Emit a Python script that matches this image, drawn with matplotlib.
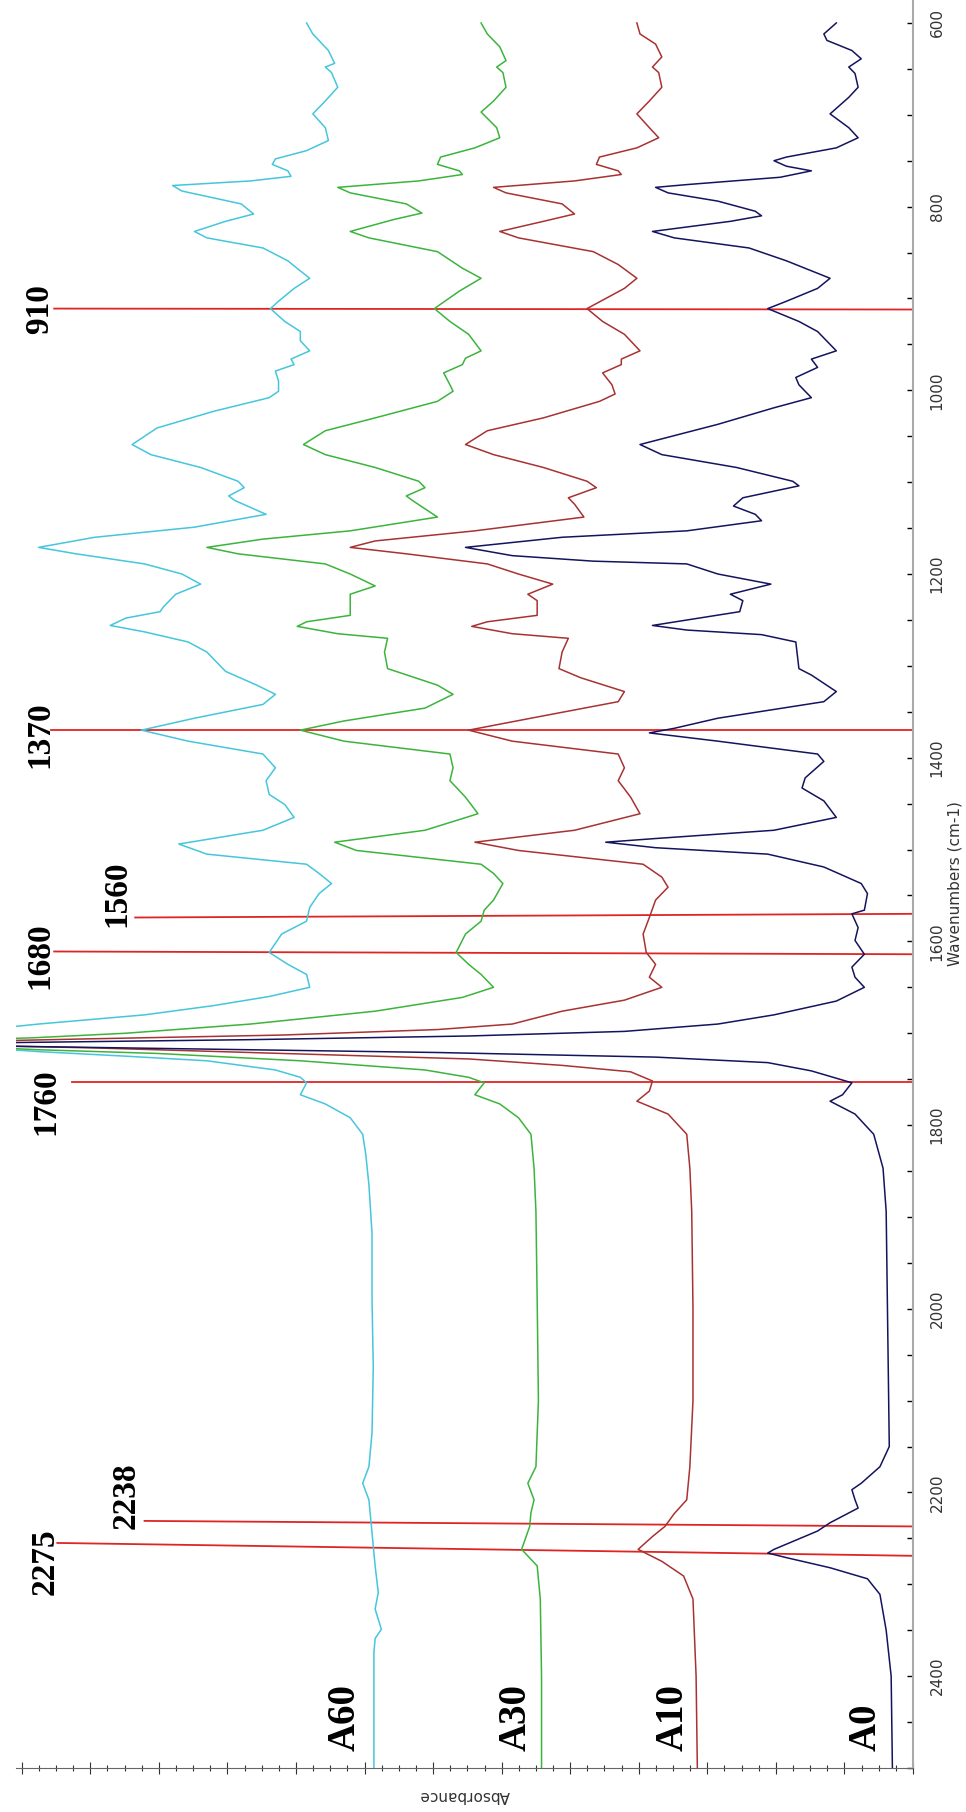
import matplotlib
matplotlib.use("Agg")
import matplotlib.pyplot as plt
from matplotlib.ticker import MultipleLocator

# FTIR spectra (absorbance in arbitrary stacked units)
wn_a60 = [600, 612, 630, 644, 648, 654, 670, 685, 699, 714, 728, 739, 748, 754, 761, 767,
          772, 777, 783, 797, 808, 816, 827, 834, 845, 859, 870, 878, 889, 903, 911, 925,
          936, 946, 957, 966, 972, 979, 990, 1001, 1008, 1023, 1041, 1059, 1070, 1084,
          1099, 1106, 1115, 1120, 1135, 1149, 1160, 1171, 1178, 1189, 1200, 1211, 1222,
          1236, 1241, 1248, 1256, 1263, 1274, 1285, 1299, 1306, 1321, 1331, 1342, 1357,
          1370, 1382, 1396, 1411, 1425, 1440, 1451, 1465, 1479, 1494, 1505, 1516, 1526,
          1537, 1548, 1563, 1578, 1592, 1612, 1625, 1636, 1650, 1660, 1670, 1680, 1690,
          1708, 1720, 1725, 1730, 1740, 1748, 1754, 1767, 1777, 1792, 1810, 1832, 1865,
          1918, 1990, 2063, 2135, 2172, 2190, 2208, 2244, 2280, 2309, 2327, 2349, 2359,
          2374, 2500]
ab_a60 = [0.973, 0.963, 0.938, 0.928, 0.943, 0.933, 0.923, 0.943, 0.963, 0.943, 0.938,
          0.973, 1.023, 1.028, 1.003, 0.998, 1.063, 1.188, 1.173, 1.078, 1.058, 1.103,
          1.153, 1.133, 1.043, 1.003, 0.983, 0.968, 0.993, 1.018, 1.031, 1.008, 0.983,
          0.983, 0.968, 0.998, 0.993, 1.023, 1.018, 1.018, 1.033, 1.123, 1.213, 1.253,
          1.223, 1.143, 1.083, 1.073, 1.098, 1.088, 1.038, 1.153, 1.313, 1.403, 1.343,
          1.233, 1.173, 1.143, 1.183, 1.203, 1.208, 1.263, 1.288, 1.233, 1.163, 1.133,
          1.113, 1.103, 1.053, 1.023, 1.043, 1.153, 1.238, 1.163, 1.043, 1.023, 1.038,
          1.033, 1.008, 0.993, 1.043, 1.178, 1.133, 0.973, 0.953, 0.933, 0.953, 0.968,
          0.973, 1.013, 1.033, 1.003, 0.973, 0.968, 1.033, 1.123, 1.233, 1.403, 1.663,
          1.403, 1.263, 1.133, 1.023, 0.983, 0.973, 0.983, 0.943, 0.903, 0.883, 0.878,
          0.873, 0.868, 0.868, 0.866, 0.868, 0.873, 0.883, 0.873, 0.868, 0.863, 0.858,
          0.863, 0.853, 0.863, 0.865, 0.865]

wn_a30 = [600, 612, 626, 641, 648, 654, 670, 685, 697, 714, 725, 736, 746, 754, 761, 765,
          772, 779, 785, 797, 807, 814, 827, 834, 849, 867, 878, 892, 911, 925, 939, 957,
          965, 972, 981, 994, 1001, 1012, 1030, 1044, 1059, 1070, 1084, 1099, 1106, 1115,
          1120, 1138, 1153, 1162, 1171, 1178, 1189, 1200, 1213, 1222, 1236, 1245, 1252,
          1257, 1265, 1270, 1285, 1303, 1321, 1331, 1346, 1360, 1370, 1382, 1396, 1411,
          1425, 1443, 1461, 1479, 1492, 1501, 1516, 1526, 1537, 1555, 1566, 1578, 1592,
          1612, 1625, 1636, 1650, 1661, 1676, 1690, 1700, 1705, 1710, 1718, 1722, 1730,
          1740, 1748, 1754, 1767, 1777, 1792, 1810, 1847, 1894, 1990, 2100, 2172, 2190,
          2208, 2222, 2237, 2262, 2280, 2316, 2400, 2500]
ab_a30 = [0.693, 0.683, 0.663, 0.653, 0.668, 0.658, 0.653, 0.673, 0.693, 0.668, 0.663,
          0.703, 0.758, 0.763, 0.728, 0.723, 0.793, 0.923, 0.903, 0.813, 0.788, 0.833,
          0.903, 0.873, 0.763, 0.723, 0.693, 0.728, 0.768, 0.743, 0.713, 0.693, 0.718,
          0.723, 0.753, 0.743, 0.738, 0.763, 0.863, 0.943, 0.978, 0.943, 0.863, 0.793,
          0.783, 0.813, 0.803, 0.763, 0.903, 1.043, 1.133, 1.083, 0.943, 0.903, 0.863,
          0.903, 0.903, 0.903, 0.973, 0.988, 0.923, 0.843, 0.848, 0.843, 0.763, 0.738,
          0.783, 0.913, 0.983, 0.913, 0.743, 0.738, 0.743, 0.718, 0.698, 0.783, 0.928,
          0.893, 0.693, 0.673, 0.658, 0.673, 0.688, 0.693, 0.718, 0.733, 0.713, 0.693,
          0.673, 0.723, 0.863, 1.063, 1.263, 1.413, 1.663, 1.403, 1.213, 0.983, 0.783,
          0.713, 0.688, 0.703, 0.663, 0.633, 0.613, 0.608, 0.605, 0.603, 0.601, 0.605,
          0.618, 0.608, 0.613, 0.615, 0.628, 0.603, 0.598, 0.596, 0.596]

wn_a10 = [600, 612, 623, 637, 648, 654, 670, 685, 699, 714, 725, 736, 746, 754, 761, 765,
          772, 779, 785, 797, 808, 816, 827, 834, 849, 863, 878, 889, 911, 925, 939, 957,
          966, 972, 981, 994, 1004, 1012, 1030, 1044, 1059, 1070, 1084, 1099, 1106, 1117,
          1124, 1138, 1153, 1164, 1171, 1178, 1189, 1200, 1211, 1222, 1229, 1245, 1252,
          1257, 1265, 1270, 1285, 1303, 1313, 1328, 1339, 1357, 1370, 1382, 1396, 1411,
          1425, 1443, 1461, 1479, 1492, 1501, 1516, 1530, 1541, 1555, 1574, 1592, 1612,
          1625, 1639, 1650, 1664, 1676, 1690, 1696, 1702, 1706, 1711, 1716, 1722, 1728,
          1735, 1742, 1752, 1763, 1774, 1788, 1810, 1847, 1894, 2000, 2100, 2172, 2208,
          2223, 2237, 2248, 2262, 2275, 2291, 2316, 2400, 2500]
ab_a10 = [0.443, 0.438, 0.413, 0.403, 0.418, 0.408, 0.403, 0.423, 0.443, 0.423, 0.408,
          0.443, 0.503, 0.508, 0.473, 0.468, 0.543, 0.673, 0.653, 0.563, 0.543, 0.593,
          0.663, 0.633, 0.513, 0.473, 0.443, 0.463, 0.523, 0.498, 0.463, 0.438, 0.468,
          0.468, 0.498, 0.483, 0.478, 0.503, 0.593, 0.683, 0.718, 0.673, 0.593, 0.523,
          0.508, 0.553, 0.543, 0.528, 0.703, 0.863, 0.903, 0.813, 0.683, 0.633, 0.578,
          0.618, 0.603, 0.603, 0.683, 0.708, 0.643, 0.553, 0.563, 0.568, 0.533, 0.463,
          0.473, 0.613, 0.713, 0.643, 0.473, 0.463, 0.473, 0.453, 0.438, 0.543, 0.703,
          0.633, 0.433, 0.403, 0.393, 0.413, 0.423, 0.433, 0.428, 0.413, 0.423, 0.403,
          0.463, 0.563, 0.643, 0.763, 1.013, 1.313, 1.663, 1.313, 1.013, 0.713, 0.563,
          0.453, 0.418, 0.423, 0.443, 0.393, 0.363, 0.358, 0.355, 0.353, 0.353, 0.358,
          0.363, 0.383, 0.398, 0.418, 0.441, 0.403, 0.368, 0.353, 0.348, 0.346]

wn_a0 = [600, 612, 619, 630, 639, 648, 655, 670, 681, 699, 714, 725, 736, 746, 750, 756,
         761, 768, 776, 779, 785, 794, 805, 810, 816, 827, 834, 845, 859, 878, 889, 903,
         911, 925, 936, 957, 966, 975, 986, 994, 1008, 1019, 1037, 1059, 1070, 1084, 1099,
         1104, 1117, 1126, 1135, 1142, 1153, 1160, 1171, 1180, 1186, 1189, 1200, 1211,
         1222, 1229, 1241, 1248, 1256, 1261, 1266, 1274, 1303, 1310, 1328, 1339, 1357,
         1368, 1373, 1382, 1396, 1404, 1422, 1433, 1447, 1465, 1479, 1488, 1492, 1498,
         1505, 1519, 1537, 1548, 1566, 1570, 1585, 1599, 1614, 1628, 1639, 1650, 1665,
         1680, 1690, 1698, 1703, 1707, 1712, 1717, 1721, 1726, 1732, 1741, 1754, 1767,
         1774, 1788, 1810, 1847, 1894, 2000, 2150, 2172, 2190, 2197, 2208, 2217, 2233,
         2242, 2262, 2266, 2271, 2282, 2294, 2311, 2350, 2400, 2500]
ab_a0 = [0.123, 0.143, 0.138, 0.098, 0.083, 0.103, 0.093, 0.088, 0.103, 0.133, 0.103,
         0.088, 0.123, 0.203, 0.223, 0.203, 0.163, 0.213, 0.363, 0.413, 0.393, 0.313,
         0.253, 0.243, 0.293, 0.418, 0.383, 0.263, 0.203, 0.133, 0.153, 0.203, 0.233,
         0.183, 0.153, 0.123, 0.163, 0.153, 0.188, 0.183, 0.163, 0.223, 0.313, 0.438,
         0.403, 0.283, 0.193, 0.183, 0.273, 0.288, 0.253, 0.243, 0.363, 0.563, 0.718,
         0.643, 0.513, 0.363, 0.313, 0.228, 0.293, 0.273, 0.278, 0.343, 0.418, 0.363,
         0.243, 0.188, 0.183, 0.163, 0.123, 0.143, 0.313, 0.383, 0.423, 0.313, 0.153,
         0.143, 0.173, 0.178, 0.143, 0.123, 0.223, 0.413, 0.493, 0.413, 0.233, 0.143,
         0.083, 0.073, 0.078, 0.098, 0.088, 0.093, 0.078, 0.098, 0.093, 0.078, 0.123,
         0.223, 0.313, 0.463, 0.713, 1.063, 1.663, 1.163, 0.763, 0.413, 0.233, 0.163,
         0.098, 0.113, 0.133, 0.093, 0.063, 0.048, 0.043, 0.041, 0.038, 0.053, 0.083,
         0.098, 0.093, 0.088, 0.133, 0.153, 0.223, 0.233, 0.203, 0.133, 0.073, 0.053,
         0.043, 0.035, 0.033]

sample_names = ["A60", "A30", "A10", "A0"]
sample_colors = ["#45c6dc", "#3cb43c", "#a83232", "#14145e"]
sample_label_x = [0.911, 0.636, 0.385, 0.075]

# marked bands: label, wavenumber at left end, at right end, absorbance where the line starts
band_labels = ["910", "1370", "1560", "1680", "1760", "2238", "2275"]
band_wn_left = [911, 1370, 1574, 1611, 1753, 2231, 2255]
band_wn_right = [912, 1370, 1570, 1614, 1753, 2237, 2269]
band_start = [1.378, 1.383, 1.248, 1.378, 1.35, 1.233, 1.373]
band_text_x = [1.401, 1.401, 1.278, 1.401, 1.391, 1.263, 1.393]
band_text_wn = [911, 1375, 1548, 1616, 1774, 2203, 2275]

fig = plt.figure(figsize=(9.66, 18.12), dpi=100)
ax = fig.add_axes([0.0161, 0.0243, 0.929, 0.9757])

for i in range(len(band_labels)):
    ax.plot([band_start[i], 0], [band_wn_left[i], band_wn_right[i]],
            color="#e02424", lw=1.3, zorder=1)
    ax.text(band_text_x[i], band_text_wn[i], band_labels[i], rotation=90,
            ha="center", va="center", fontsize=24, fontweight="bold",
            family="Liberation Serif", color="black")

spectra = [(wn_a60, ab_a60), (wn_a30, ab_a30), (wn_a10, ab_a10), (wn_a0, ab_a0)]
for (wn, ab), name, col, lx in zip(spectra, sample_names, sample_colors, sample_label_x):
    ax.plot(ab, wn, color=col, lw=1.1, zorder=2)
    ax.text(lx, 2481, name, rotation=90, ha="center", va="bottom", fontsize=28,
            fontweight="bold", family="Liberation Serif", color="black")

ax.set_xlim(1.44, 0)
ax.set_ylim(2500, 575)

ax.spines["top"].set_visible(False)
ax.spines["left"].set_visible(False)
ax.spines["right"].set_color("#aaaaaa")
ax.spines["right"].set_linewidth(1.5)
ax.spines["bottom"].set_color("#666666")

ax.yaxis.tick_right()
ax.yaxis.set_label_position("right")
ax.yaxis.set_major_locator(MultipleLocator(200))
ax.yaxis.set_minor_locator(MultipleLocator(50))
ax.tick_params(axis="y", which="both", direction="in", length=4, width=1,
               color="black", labelsize=11, labelcolor="#333333", pad=12,
               labelrotation=90)
for lab in ax.get_yticklabels():
    lab.set_va("center")

ax.xaxis.set_major_locator(MultipleLocator(0.11))
ax.xaxis.set_minor_locator(MultipleLocator(0.0275))
ax.tick_params(axis="x", which="major", direction="inout", length=9, width=0.8,
               color="#333333", labelbottom=False)
ax.tick_params(axis="x", which="minor", direction="inout", length=4, width=0.8,
               color="#333333")

ax.set_ylabel("Wavenumbers (cm-1)", fontsize=11, color="#333333", rotation=90,
              va="center", ha="center")
ax.yaxis.set_label_coords(1.0468, 0.5)
ax.set_xlabel("Absorbance", fontsize=11, color="#333333", rotation=180,
              va="center", ha="center")
ax.xaxis.set_label_coords(0.5, -0.0158)

fig.savefig("out.png", dpi=100)
